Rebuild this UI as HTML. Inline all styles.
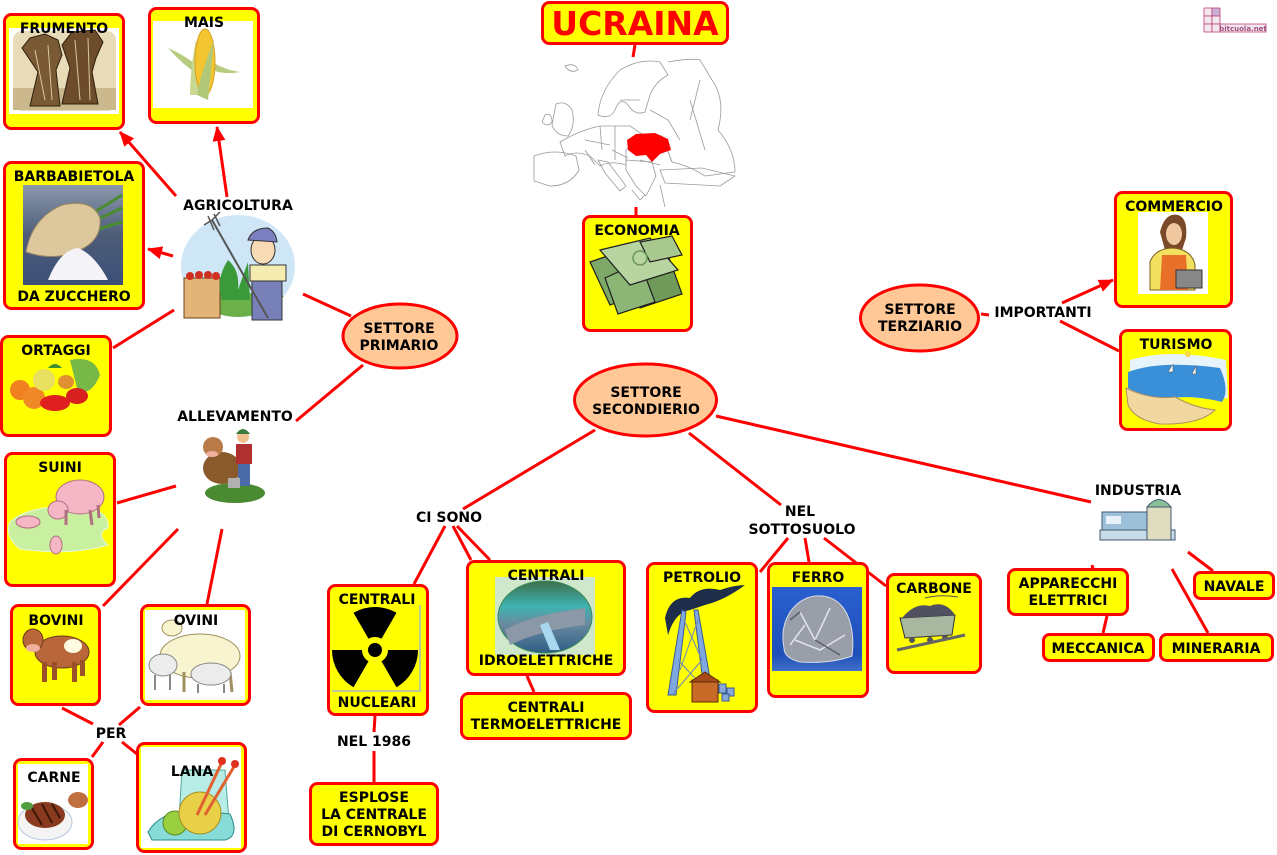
<!DOCTYPE html>
<html><head><meta charset="utf-8"><style>
html,body{margin:0;padding:0;background:#fff;}
svg{display:block;}
text{font-family:"DejaVu Sans","Liberation Sans",sans-serif;font-weight:bold;font-size:14px;fill:#000;text-anchor:middle;}
</style></head><body>
<svg width="1277" height="855" viewBox="0 0 1277 855" xmlns="http://www.w3.org/2000/svg">
<defs>
<marker id="ar" markerWidth="15" markerHeight="13" refX="14" refY="6.5" orient="auto" markerUnits="userSpaceOnUse"><path d="M0,0 L15,6.5 L0,13 z" fill="#ff0000"/></marker>
<linearGradient id="gb" x1="0" y1="0" x2="0" y2="1"><stop offset="0" stop-color="#8c99ad"/><stop offset="0.5" stop-color="#4d5d78"/><stop offset="1" stop-color="#3c4f78"/></linearGradient>
<linearGradient id="gd" x1="0" y1="0" x2="0" y2="1"><stop offset="0" stop-color="#3d6e4a"/><stop offset="0.35" stop-color="#3fb3b0"/><stop offset="0.6" stop-color="#6a8aa0"/><stop offset="1" stop-color="#2f5d86"/></linearGradient>
<linearGradient id="gf" x1="0" y1="0" x2="0" y2="1"><stop offset="0" stop-color="#2a5fd0"/><stop offset="0.8" stop-color="#1e50b8"/><stop offset="1" stop-color="#4070c8"/></linearGradient>
<clipPath id="cf"><ellipse cx="238" cy="266" rx="57" ry="51"/></clipPath>
</defs>

<!-- connectors -->
<g stroke="#ff0000" stroke-width="3" fill="none">
<line x1="635" y1="45" x2="633" y2="57"/>
<line x1="636" y1="207" x2="636" y2="215"/>
<line x1="176" y1="196" x2="120" y2="132" marker-end="url(#ar)"/>
<line x1="227" y1="197" x2="217" y2="127" marker-end="url(#ar)"/>
<line x1="173" y1="256" x2="148" y2="249" marker-end="url(#ar)"/>
<line x1="174" y1="310" x2="113" y2="348"/>
<line x1="303" y1="294" x2="351" y2="316"/>
<line x1="363" y1="365" x2="296" y2="421"/>
<line x1="176" y1="486" x2="117" y2="503"/>
<line x1="178" y1="529" x2="103" y2="606"/>
<line x1="222" y1="529" x2="207" y2="604"/>
<line x1="62" y1="708" x2="93" y2="724"/>
<line x1="140" y1="707" x2="119" y2="725"/>
<line x1="103" y1="742" x2="92" y2="757"/>
<line x1="122" y1="742" x2="137" y2="754"/>
<line x1="595" y1="430" x2="463" y2="509"/>
<line x1="445" y1="526" x2="414" y2="584"/>
<line x1="453" y1="526" x2="471" y2="560"/>
<line x1="457" y1="526" x2="490" y2="560"/>
<line x1="527" y1="676" x2="534" y2="692"/>
<line x1="375" y1="716" x2="374" y2="732"/>
<line x1="374" y1="751" x2="374" y2="782"/>
<line x1="689" y1="433" x2="781" y2="505"/>
<line x1="716" y1="416" x2="1091" y2="502"/>
<line x1="788" y1="538" x2="760" y2="572"/>
<line x1="805" y1="538" x2="809" y2="562"/>
<line x1="824" y1="538" x2="886" y2="586"/>
<line x1="1092" y1="565" x2="1093" y2="569"/>
<line x1="1188" y1="552" x2="1213" y2="571"/>
<line x1="1172" y1="569" x2="1208" y2="633"/>
<line x1="1107" y1="616" x2="1103" y2="633"/>
<line x1="981" y1="314" x2="989" y2="315"/>
<line x1="1062" y1="303" x2="1113" y2="280" marker-end="url(#ar)"/>
<line x1="1060" y1="321" x2="1119" y2="351"/>
</g>

<!-- boxes -->
<g fill="#ffff00" stroke="#ff0000" stroke-width="3">
<rect x="4.5" y="14.5" width="119" height="114" rx="7"/>
<rect x="149.5" y="8.5" width="109" height="114" rx="7"/>
<rect x="4.5" y="162.5" width="139" height="146" rx="7"/>
<rect x="1.5" y="336.5" width="109" height="99" rx="7"/>
<rect x="5.5" y="453.5" width="109" height="132" rx="7"/>
<rect x="11.5" y="605.5" width="88" height="99" rx="7"/>
<rect x="141.5" y="605.5" width="108" height="99" rx="7"/>
<rect x="14.5" y="759.5" width="78" height="89" rx="7"/>
<rect x="137.5" y="743.5" width="108" height="108" rx="7"/>
<rect x="542.5" y="2.5" width="185" height="41" rx="7"/>
<rect x="583.5" y="216.5" width="108" height="114" rx="7"/>
<rect x="1115.5" y="192.5" width="116" height="114" rx="7"/>
<rect x="1120.5" y="330.5" width="110" height="99" rx="7"/>
<rect x="328.5" y="585.5" width="99" height="129" rx="7"/>
<rect x="467.5" y="561.5" width="157" height="113" rx="7"/>
<rect x="461.5" y="693.5" width="169" height="45" rx="7"/>
<rect x="310.5" y="783.5" width="127" height="61" rx="7"/>
<rect x="647.5" y="563.5" width="109" height="148" rx="7"/>
<rect x="768.5" y="563.5" width="99" height="133" rx="7"/>
<rect x="887.5" y="574.5" width="93" height="98" rx="7"/>
<rect x="1008.5" y="569.5" width="119" height="45" rx="7"/>
<rect x="1194.5" y="572.5" width="79" height="26" rx="6"/>
<rect x="1043.5" y="634.5" width="110" height="26" rx="6"/>
<rect x="1160.5" y="634.5" width="112" height="26" rx="6"/>
</g>

<!-- ellipses -->
<g fill="#ffc896" stroke="#ff0000" stroke-width="3">
<ellipse cx="400" cy="336" rx="57" ry="32"/>
<ellipse cx="645.5" cy="400" rx="71" ry="36"/>
<ellipse cx="919.5" cy="318" rx="59" ry="33"/>
</g>

<!-- FRUMENTO image -->
<rect x="9" y="28" width="110" height="86" fill="#fff"/>
<rect x="13" y="31" width="103" height="80" rx="9" fill="#e8dcb8"/>
<rect x="13" y="88" width="103" height="22" fill="#cbb88c"/>
<path d="M30,106 L38,72 L22,48 L30,38 L45,34 L58,40 L62,55 L56,70 L60,106 Z" fill="#7a5a34" stroke="#2e1e0e"/>
<path d="M62,104 L70,68 L62,45 L72,32 L95,30 L103,42 L96,58 L92,72 L98,104 Z" fill="#6c4c2a" stroke="#2e1e0e"/>
<g stroke="#d8c8a0" stroke-width="1"><line x1="35" y1="50" x2="45" y2="100"/><line x1="48" y1="45" x2="52" y2="100"/><line x1="75" y1="40" x2="80" y2="100"/><line x1="88" y1="38" x2="90" y2="100"/></g>

<!-- MAIS image -->
<rect x="153" y="21" width="100" height="87" fill="#fff"/>
<path d="M168,48 Q185,55 200,68 L198,75 Q180,62 168,48 Z" fill="#b8cc80"/>
<path d="M240,72 Q225,70 212,62 L212,70 Q225,75 240,72 Z" fill="#b8cc80"/>
<path d="M190,95 Q190,70 196,40 L204,95 Z" fill="#c8d890"/>
<ellipse cx="205" cy="62" rx="10" ry="33" fill="#f2c531" stroke="#d8a020"/>
<path d="M197,95 Q200,75 214,40 Q210,80 208,100 Z" fill="#b0c878"/>

<!-- BARBABIETOLA image -->
<rect x="23" y="185" width="100" height="100" fill="url(#gb)"/>
<g stroke="#4a8a30" stroke-width="3"><line x1="90" y1="215" x2="122" y2="195"/><line x1="92" y1="222" x2="122" y2="208"/><line x1="95" y1="230" x2="122" y2="222"/></g>
<path d="M26,252 Q32,218 62,205 Q92,198 100,218 Q102,240 80,250 Q55,262 26,252 Z" fill="#dcc89c" stroke="#9a8660"/>
<path d="M48,280 Q60,250 78,248 Q95,255 108,280 Z" fill="#f4f4f8"/>

<!-- AGRICOLTURA picture -->
<g clip-path="url(#cf)">
<rect x="180" y="214" width="116" height="104" fill="#cfe6f6"/>
<path d="M180,298 Q238,288 296,298 L296,320 L180,320 Z" fill="#6cb04a"/>
</g>
<rect x="184" y="278" width="36" height="40" fill="#e2b478" stroke="#6a4420"/>
<g fill="#d03020"><circle cx="190" cy="276" r="4"/><circle cx="199" cy="275" r="4"/><circle cx="208" cy="275" r="4"/><circle cx="216" cy="276" r="4"/></g>
<path d="M222,300 Q215,280 228,260 Q240,270 238,290 Q245,270 248,262 L250,300 Z" fill="#3a9a3a"/>
<rect x="252" y="278" width="30" height="42" fill="#7880b8" stroke="#333"/>
<rect x="250" y="265" width="36" height="16" fill="#f4ecb0" stroke="#333"/>
<ellipse cx="263" cy="250" rx="12" ry="14" fill="#f8dab4" stroke="#333"/>
<path d="M248,240 Q252,228 268,228 Q276,232 277,242 Z" fill="#7b7fc0" stroke="#333"/>
<line x1="212" y1="220" x2="268" y2="318" stroke="#555" stroke-width="2"/>
<path d="M204,225 L212,220 L220,212 M208,216 L214,230 M214,214 L220,226" stroke="#555" stroke-width="1.5" fill="none"/>

<!-- ORTAGGI image -->
<path d="M70,360 Q95,355 100,375 Q92,395 78,392 Z" fill="#78b848"/>
<circle cx="20" cy="390" r="10" fill="#f08020"/>
<circle cx="34" cy="398" r="11" fill="#f08828"/>
<circle cx="44" cy="380" r="11" fill="#e8e060"/>
<ellipse cx="55" cy="403" rx="15" ry="8" fill="#e02020"/>
<ellipse cx="77" cy="396" rx="11" ry="8" fill="#d82020"/>
<ellipse cx="66" cy="382" rx="8" ry="7" fill="#e09030"/>
<path d="M48,368 Q55,360 62,368 Z" fill="#409030"/>

<!-- ALLEVAMENTO -->
<ellipse cx="235" cy="493" rx="30" ry="10" fill="#4a8a30"/>
<ellipse cx="222" cy="468" rx="19" ry="16" fill="#8b5a2b"/>
<ellipse cx="213" cy="447" rx="10" ry="10" fill="#b87a48"/>
<ellipse cx="212" cy="454" rx="6" ry="3" fill="#f0b0a0"/>
<circle cx="243" cy="437" r="6" fill="#f0c090"/>
<path d="M236,434 Q243,424 250,434 Z" fill="#3a7a3a"/>
<rect x="236" y="444" width="16" height="20" fill="#b03030"/>
<rect x="238" y="464" width="12" height="22" fill="#4a6aa8"/>
<rect x="228" y="478" width="12" height="10" fill="#b0b0b0"/>

<!-- SUINI -->
<path d="M10,522 Q30,504 80,507 Q110,510 108,528 Q95,533 108,545 Q70,556 20,549 Q4,536 10,522 Z" fill="#c8f0a0" stroke="#eaf8d8"/>
<ellipse cx="80" cy="497" rx="24" ry="17" fill="#f5b6c6" stroke="#b07080"/>
<ellipse cx="58" cy="510" rx="10" ry="9" fill="#f5b6c6" stroke="#b07080"/>
<g stroke="#b07080" stroke-width="3"><line x1="66" y1="510" x2="66" y2="525"/><line x1="90" y1="510" x2="92" y2="525"/><line x1="98" y1="505" x2="99" y2="518"/></g>
<ellipse cx="28" cy="522" rx="12" ry="6" fill="#f5b6c6" stroke="#b07080"/>
<ellipse cx="56" cy="545" rx="6" ry="9" fill="#f5b6c6" stroke="#b07080"/>

<!-- BOVINI -->
<ellipse cx="62" cy="652" rx="27" ry="16" fill="#b9673a" stroke="#6a3a1a"/>
<ellipse cx="33" cy="640" rx="10" ry="11" fill="#b9673a" stroke="#6a3a1a"/>
<ellipse cx="33" cy="648" rx="7" ry="4" fill="#f0b0a0"/>
<ellipse cx="73" cy="646" rx="9" ry="7" fill="#fffbe0"/>
<g fill="#9a5028"><rect x="42" y="662" width="5" height="20"/><rect x="52" y="662" width="5" height="18"/><rect x="72" y="662" width="5" height="20"/><rect x="80" y="660" width="5" height="16"/></g>

<!-- OVINI -->
<rect x="145" y="610" width="100" height="90" fill="#fff"/>
<ellipse cx="200" cy="656" rx="40" ry="22" fill="#f8f4d0" stroke="#a09060"/>
<ellipse cx="172" cy="628" rx="10" ry="8" fill="#f8f4d0" stroke="#a09060"/>
<g stroke="#a09060" stroke-width="3"><line x1="184" y1="672" x2="184" y2="692"/><line x1="230" y1="672" x2="232" y2="692"/></g>
<ellipse cx="163" cy="665" rx="14" ry="11" fill="#ececec" stroke="#888"/>
<ellipse cx="211" cy="674" rx="20" ry="11" fill="#ececec" stroke="#888"/>
<g stroke="#888" stroke-width="2"><line x1="155" y1="675" x2="155" y2="690"/><line x1="170" y1="675" x2="170" y2="690"/><line x1="198" y1="684" x2="198" y2="693"/><line x1="224" y1="684" x2="224" y2="693"/></g>

<!-- CARNE -->
<rect x="18" y="764" width="70" height="80" fill="#fff"/>
<ellipse cx="45" cy="822" rx="27" ry="18" fill="#f4f4f4" stroke="#b8c8e0"/>
<ellipse cx="45" cy="815" rx="20" ry="13" fill="#8a3a1e"/>
<g stroke="#3a1808" stroke-width="2"><line x1="32" y1="808" x2="42" y2="825"/><line x1="42" y1="804" x2="52" y2="823"/><line x1="52" y1="804" x2="60" y2="818"/></g>
<ellipse cx="78" cy="800" rx="10" ry="8" fill="#c07040"/>
<ellipse cx="27" cy="806" rx="6" ry="4" fill="#50a040"/>

<!-- LANA -->
<rect x="141" y="747" width="100" height="101" fill="#fff"/>
<path d="M182,770 L225,770 L230,835 L178,835 Z" fill="#b8ece6" stroke="#50a8a0"/>
<path d="M148,832 Q160,812 190,810 L230,814 Q240,836 225,840 L152,840 Z" fill="#88dcd8" stroke="#2a8a8a"/>
<circle cx="175" cy="823" r="12" fill="#9ad040" stroke="#5a8a20"/>
<circle cx="200" cy="813" r="21" fill="#e8d048" stroke="#a09020"/>
<g stroke="#e06030" stroke-width="3"><line x1="197" y1="815" x2="222" y2="762"/><line x1="205" y1="815" x2="235" y2="765"/></g>
<circle cx="222" cy="761" r="4" fill="#e03020"/><circle cx="235" cy="764" r="4" fill="#e03020"/>

<!-- MAP -->
<g fill="none" stroke="#9a9a9a" stroke-width="0.8">
<path d="M598,115 Q600,90 620,70 Q640,58 660,62 L668,75 Q655,82 650,95 L645,112 Q635,116 628,105 Q620,96 615,110 Q610,120 598,115 Z"/>
<path d="M668,62 Q690,58 700,60 L712,80 Q726,100 718,130 Q735,150 735,172 L705,176 Q690,166 672,162 L662,136"/>
<path d="M556,104 Q566,100 572,110 Q576,125 568,136 Q556,136 552,125 Z"/>
<path d="M545,115 Q552,112 552,122 Q548,128 542,122 Z"/>
<path d="M560,142 Q580,130 600,126 L630,126 L642,134 L626,150 L626,165 Q610,160 600,166 L590,156 Q575,150 565,156 Z"/>
<path d="M534,156 Q555,148 576,156 L579,170 Q570,186 550,186 L534,181 Z"/>
<path d="M598,160 L608,162 L626,186 L620,191 L605,173 Z"/>
<path d="M626,160 L652,162 L656,176 L646,196 L636,186 L626,170 Z"/>
<path d="M660,170 L702,168 L735,176 L720,186 L665,183 Z"/>
<path d="M600,126 L602,150 M615,126 L615,160 M585,140 L610,145 M640,134 L662,136 L672,162"/>
<path d="M565,66 Q575,62 578,70 Q570,74 565,66 Z"/>
<path d="M585,150 L595,165 M612,150 L628,158 M640,160 L660,165 M650,110 L668,120 L680,140 M690,100 L705,150 M620,100 L640,100 M660,185 L665,207 M700,80 L690,120"/>
<path d="M632,190 L640,200 L645,195"/>
</g>
<path d="M627,140 L636,134 L655,133 L668,139 L671,150 L660,154 L652,162 L646,155 L636,156 L628,150 Z" fill="#ff0000"/>

<!-- ECONOMIA money -->
<g stroke="#1e1e1e" stroke-width="1.2">
<path d="M590,262 L625,250 L645,292 L610,305 Z" fill="#7ea868"/>
<path d="M628,262 L668,255 L682,294 L640,308 Z" fill="#6f9a5a"/>
<path d="M605,278 L640,262 L655,302 L618,314 Z" fill="#8cb676"/>
<path d="M600,250 L650,238 L678,270 L630,285 Z" fill="#b8d4a0"/>
<path d="M640,242 L672,236 L682,255 L650,262 Z" fill="#a8c890"/>
</g>
<circle cx="640" cy="258" r="7" fill="none" stroke="#6a9a5a" stroke-width="1.5"/>

<!-- NUCLEAR -->
<g fill="#000">
<path d="M353.5,612.8 A43,43 0 0 1 396.5,612.8 L381.5,638.7 A13,13 0 0 0 368.5,638.7 Z"/>
<path d="M418,650 A43,43 0 0 1 396.5,687.2 L381.5,661.3 A13,13 0 0 0 388,650 Z"/>
<path d="M353.5,687.2 A43,43 0 0 1 332,650 L362,650 A13,13 0 0 0 368.5,661.3 Z"/>
<circle cx="375" cy="650" r="7"/>
</g>
<path d="M420,605 L420,691 L332,691" fill="none" stroke="#a8b8c8" stroke-width="1.5"/>

<!-- DAM -->
<rect x="495" y="577" width="100" height="78" fill="#cfe8cc"/>
<ellipse cx="545" cy="617" rx="47" ry="36" fill="url(#gd)" stroke="#3a8a5a"/>
<path d="M505,630 Q530,615 585,608 L585,625 Q540,630 510,645 Z" fill="#8a98a8"/>
<path d="M540,625 L550,650 L560,650 L548,622 Z" fill="#a8d8f0"/>

<!-- PETROLIO -->
<path d="M665,618 Q670,595 690,598 Q700,585 720,590 Q735,585 745,585 Q725,600 705,605 L690,610 Q675,612 668,635 Z" fill="#1e2e4a"/>
<path d="M682,610 L668,695 L676,695 L686,612 Z M694,610 L704,690 L712,690 L698,610 Z" fill="#7fa8e0" stroke="#3a5a98"/>
<path d="M684,620 L702,660 M698,620 L680,670 M678,660 L706,690 M702,660 L672,695" stroke="#6a88c0" stroke-width="1" fill="none"/>
<rect x="692" y="680" width="26" height="22" fill="#c86a28" stroke="#5a2a08"/>
<path d="M690,682 L705,672 L720,682 Z" fill="#a84a18" stroke="#5a2a08"/>
<g fill="#88a8d8" stroke="#3a5a98"><rect x="719" y="684" width="7" height="9"/><rect x="727" y="688" width="7" height="8"/><rect x="722" y="694" width="7" height="7"/></g>

<!-- FERRO -->
<rect x="772" y="587" width="90" height="84" fill="url(#gf)"/>
<path d="M784,648 Q780,628 790,612 Q800,598 815,596 Q837,594 847,614 Q855,632 852,656 Q830,664 800,662 Q784,658 784,648 Z" fill="#9a9ea8" stroke="#d8dce4"/>
<path d="M800,612 L815,640 L830,608 M795,640 L820,650 L845,635 M805,625 L790,645" stroke="#e0e4ec" stroke-width="1.5" fill="none"/>
<path d="M815,640 L840,655 M790,620 L800,612" stroke="#5a5e68" stroke-width="1.5" fill="none"/>

<!-- CARBONE -->
<path d="M900,618 L955,615 L952,635 L905,638 Z" fill="#a8b8a0" stroke="#333"/>
<path d="M902,618 Q915,602 930,606 Q945,600 955,615 Z" fill="#505060"/>
<g fill="#555"><circle cx="912" cy="640" r="3"/><circle cx="930" cy="640" r="3"/><circle cx="945" cy="638" r="3"/></g>
<path d="M897,650 L965,635" stroke="#666" stroke-width="3"/>
<path d="M925,598 Q940,594 958,597" stroke="#555" stroke-width="1" fill="none"/>

<!-- INDUSTRIA -->
<rect x="1102" y="512" width="45" height="27" fill="#9cc0d8" stroke="#405870"/>
<rect x="1100" y="530" width="75" height="10" fill="#c8dce8" stroke="#405870"/>
<rect x="1147" y="507" width="24" height="33" fill="#e0dcc0" stroke="#405870"/>
<path d="M1147,507 Q1159,492 1171,507 Z" fill="#8ac098" stroke="#405870"/>
<rect x="1106" y="516" width="15" height="8" fill="#e8f0f8"/>

<!-- COMMERCIO -->
<rect x="1138" y="212" width="70" height="82" fill="#fff"/>
<path d="M1160,232 Q1165,212 1178,215 Q1188,218 1186,238 L1182,250 L1165,250 Z" fill="#7a4a28"/>
<ellipse cx="1174" cy="234" rx="8" ry="11" fill="#f0c8a0"/>
<path d="M1150,290 L1150,262 Q1155,248 1174,248 Q1192,250 1195,265 L1195,290 Z" fill="#f4e060" stroke="#7a6020"/>
<path d="M1162,255 L1186,255 L1188,290 L1160,290 Z" fill="#e87028"/>
<rect x="1176" y="270" width="26" height="18" fill="#888" stroke="#333"/>

<!-- TURISMO -->
<path d="M1130,360 Q1170,348 1226,360 L1228,398 Q1200,400 1180,395 Q1150,390 1130,372 Z" fill="#e8f4fc"/>
<path d="M1128,372 Q1160,360 1220,368 Q1230,390 1222,402 Q1195,395 1170,398 Q1145,400 1128,388 Z" fill="#3a90d8"/>
<path d="M1126,388 Q1150,400 1175,397 Q1195,408 1215,410 Q1200,425 1160,424 Q1135,420 1128,405 Z" fill="#f0d8a0" stroke="#b09060"/>
<circle cx="1188" cy="354" r="3" fill="#f8d840"/>
<path d="M1173,364 L1173,372 L1168,372 Z M1196,366 L1196,374 L1192,374 Z" fill="#f4f4f4" stroke="#555" stroke-width="0.5"/>

<!-- logo -->
<g stroke="#c04070" stroke-width="0.8" fill="#f4e8f0">
<rect x="1204" y="8" width="8" height="8"/><rect x="1212" y="8" width="8" height="8" fill="#c8b0d8"/>
<rect x="1204" y="16" width="8" height="8"/><rect x="1212" y="16" width="8" height="8"/>
<rect x="1204" y="24" width="8" height="8"/><rect x="1212" y="24" width="8" height="8"/>
<rect x="1220" y="24" width="46" height="8"/>
</g>
<text x="1243" y="31" style="font-size:7px;fill:#a05080">bitcuola.net</text>

<!-- labels -->
<text x="64" y="33">FRUMENTO</text>
<text x="204" y="27">MAIS</text>
<text x="74" y="181">BARBABIETOLA</text>
<text x="74" y="301">DA ZUCCHERO</text>
<text x="56" y="355">ORTAGGI</text>
<text x="60" y="472">SUINI</text>
<text x="56" y="625">BOVINI</text>
<text x="196" y="625">OVINI</text>
<text x="54" y="782">CARNE</text>
<text x="192" y="776">LANA</text>
<text x="238" y="210">AGRICOLTURA</text>
<text x="235" y="421">ALLEVAMENTO</text>
<text x="111" y="738">PER</text>
<text x="635" y="35" style="font-size:33px;fill:#ff0000">UCRAINA</text>
<text x="637" y="235">ECONOMIA</text>
<text x="399" y="333">SETTORE</text>
<text x="399" y="350">PRIMARIO</text>
<text x="646" y="397">SETTORE</text>
<text x="646" y="414">SECONDIERIO</text>
<text x="920" y="314">SETTORE</text>
<text x="920" y="331">TERZIARIO</text>
<text x="1043" y="317">IMPORTANTI</text>
<text x="1174" y="211">COMMERCIO</text>
<text x="1176" y="349">TURISMO</text>
<text x="449" y="522">CI SONO</text>
<text x="377" y="604">CENTRALI</text>
<text x="377" y="707">NUCLEARI</text>
<text x="546" y="580">CENTRALI</text>
<text x="546" y="665">IDROELETTRICHE</text>
<text x="546" y="712">CENTRALI</text>
<text x="546" y="729">TERMOELETTRICHE</text>
<text x="374" y="746">NEL 1986</text>
<text x="374" y="802">ESPLOSE</text>
<text x="374" y="819">LA CENTRALE</text>
<text x="374" y="836">DI CERNOBYL</text>
<text x="800" y="516">NEL</text>
<text x="802" y="534">SOTTOSUOLO</text>
<text x="702" y="582">PETROLIO</text>
<text x="818" y="582">FERRO</text>
<text x="934" y="593">CARBONE</text>
<text x="1138" y="495">INDUSTRIA</text>
<text x="1068" y="588">APPARECCHI</text>
<text x="1068" y="605">ELETTRICI</text>
<text x="1234" y="591">NAVALE</text>
<text x="1098" y="653">MECCANICA</text>
<text x="1216" y="653">MINERARIA</text>
</svg>
</body></html>
